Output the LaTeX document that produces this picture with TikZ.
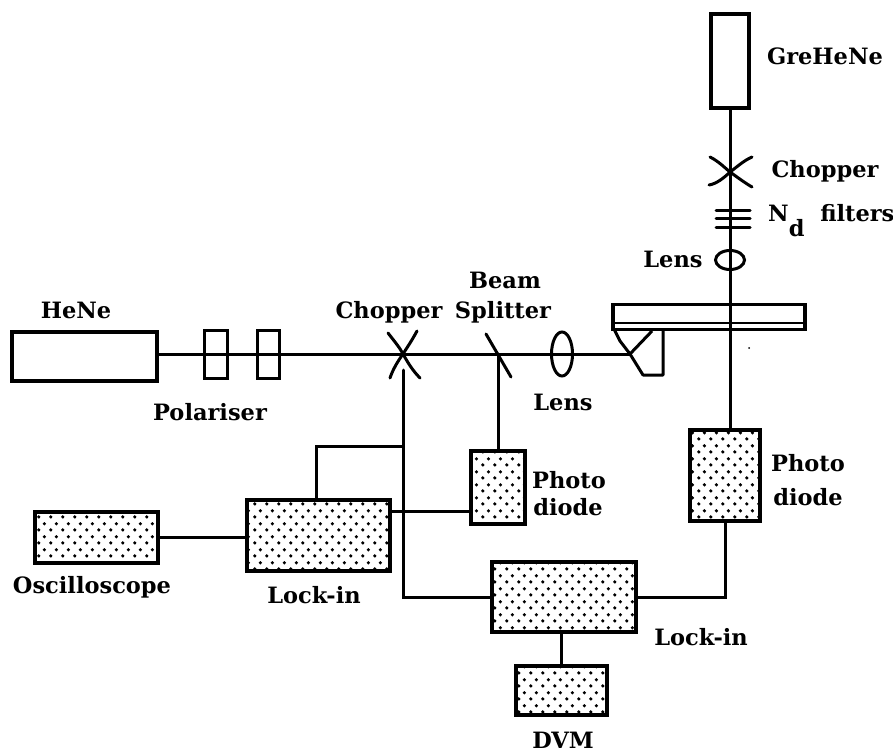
\documentclass[tikz,border=0pt]{standalone}
\usepackage{fontspec}
\setmainfont{DejaVu Serif}
\usetikzlibrary{patterns}
\pgfdeclarepatternformonly{pdots}{\pgfpointorigin}{\pgfqpoint{12pt}{13pt}}{\pgfqpoint{12pt}{13pt}}{%
  \pgfpathcircle{\pgfqpoint{3pt}{3.25pt}}{1.9pt}
  \pgfpathcircle{\pgfqpoint{9pt}{9.75pt}}{1.9pt}
  \pgfusepath{fill}}
\tikzset{
  wire/.style={line width=3pt,line cap=round},
  box/.style={draw,line width=3.6pt,inner sep=0pt,fill=white},
  dotbox/.style={draw,line width=3.6pt,inner sep=0pt,pattern=pdots},
  lbl/.style={inner sep=0pt,align=center,font=\fontsize{22.5}{28}\selectfont\bfseries},
}
\begin{document}
\begin{tikzpicture}[x=1pt,y=-1pt]
\useasboundingbox (0,0) rectangle (893,754);
% named points
\coordinate (chopA) at (403,354);
\coordinate (chopB) at (730,172);
\coordinate (split) at (498,354);
\coordinate (prismC) at (630,354);
\coordinate (lensAc) at (562,354);
\coordinate (lensBc) at (730,260);
\coordinate (chopAfoot) at (403,370);
\coordinate (tapA) at (403,446);
\coordinate (tapL) at (316,446);
% boxes
\node[box,minimum width=38pt,minimum height=94pt] (green) at (730,61) {};
\node[box,minimum width=145pt,minimum height=49pt] (hene) at (84.5,356.5) {};
\node[dotbox,minimum width=70pt,minimum height=91pt] (pdB) at (725,475.5) {};
\node[dotbox,minimum width=54pt,minimum height=73pt] (pdA) at (498,487.5) {};
\node[dotbox,minimum width=143pt,minimum height=71pt] (lockA) at (318.5,535.5) {};
\node[dotbox,minimum width=144pt,minimum height=70pt] (lockB) at (564,597) {};
\node[dotbox,minimum width=91pt,minimum height=49pt] (dvm) at (561.5,690.5) {};
\node[dotbox,minimum width=123pt,minimum height=51pt] (osc) at (96.5,537.5) {};
% beams
\draw[wire] (hene.east |- split) -- (prismC);
\draw[wire] (green.south) -- (pdB.north -| green.south);
% polarisers
\node[draw,line width=3pt,inner sep=0pt,minimum width=23pt,minimum height=48pt] (polA) at (215.5,354) {};
\node[draw,line width=3pt,inner sep=0pt,minimum width=22pt,minimum height=48pt] (polB) at (268,354) {};
% connectors
\draw[wire] (split) -- (pdA.north);
\draw[wire] (chopAfoot) -- (chopAfoot |- lockB.west) -- (lockB.west);
\draw[wire] (pdB.south) |- (lockB.east);
\draw[wire] (dvm.north |- lockB.south) -- (dvm.north);
\draw[wire] (osc.east) -- (osc.east -| lockA.west);
\draw[wire] (lockA.east |- 0,511) -- (pdA.west |- 0,511);
\draw[wire] (tapL |- lockA.north) -- (tapL) -- (tapA);
% chopper A
\draw[wire] (388,333) .. controls (395,342) and (400,348) .. (chopA) .. controls (408,363) and (413,371) .. (420,378);
\draw[wire] (417,331) .. controls (411,342) and (408,346) .. (chopA) .. controls (398,361) and (393,369) .. (390,378);
% chopper B
\draw[wire] (710,157) .. controls (718,161) and (724,167) .. (chopB) .. controls (737,177) and (745,183) .. (752,187);
\draw[wire] (752,157) .. controls (743,161) and (737,167) .. (chopB) .. controls (724,178) and (716,184) .. (709,185);
% beam splitter
\draw[wire] (486,334) -- (511,377);
% lenses
\draw[line width=3pt] (lensAc) ellipse[x radius=10.5,y radius=22];
\draw[line width=3pt] (lensBc) ellipse[x radius=14.5,y radius=9.5];
% filters
\draw[wire] (716,210) -- (750,210);
\draw[wire] (716,218) -- (750,218);
\draw[wire] (716,227) -- (750,227);
% sample
\node[draw,line width=3.6pt,inner sep=0pt,minimum width=192pt,minimum height=25pt] (sample) at (709,317) {};
\draw[line width=2.6pt] (sample.west |- 0,323) -- (sample.east |- 0,323);
% prism
\draw[line width=3pt,line join=round] (614,329) -- (620,341) -- (prismC) -- (643,375) -- (663,375) -- (663,330);
\draw[line width=3pt] (prismC) -- (652,331);
% stray speck
\fill (749,348) circle[radius=1pt];
% labels
\node[lbl] (t1) at (825,56) {GreHeNe};
\node[lbl] (t2) at (825,171) {Chopper};
\node[lbl,anchor=west] (t3) at (768,220.5) {N\raisebox{-15pt}{d}\hspace{0.7em}filters};
\node[lbl] (t4) at (673,259) {Lens};
\node[lbl] (t5) at (76,310) {HeNe};
\node[lbl] (t6) at (210,412) {Polariser};
\node[lbl] (t7) at (389,312) {Chopper};
\node[lbl] (t8) at (503,312) {Splitter};
\node[lbl] (t8b) at (505,280) {Beam};
\node[lbl] (t9) at (563,402) {Lens};
\node[lbl] (t10) at (569,480) {Photo};
\node[lbl] (t10b) at (568,507) {diode};
\node[lbl] (t11) at (808,463) {Photo};
\node[lbl] (t11b) at (808,497) {diode};
\node[lbl] (t12) at (92,587) {Oscilloscope};
\node[lbl] (t13) at (314,595) {Lock-in};
\node[lbl] (t14) at (701,637) {Lock-in};
\node[lbl] (t15) at (563,740) {DVM};
\end{tikzpicture}
\end{document}
